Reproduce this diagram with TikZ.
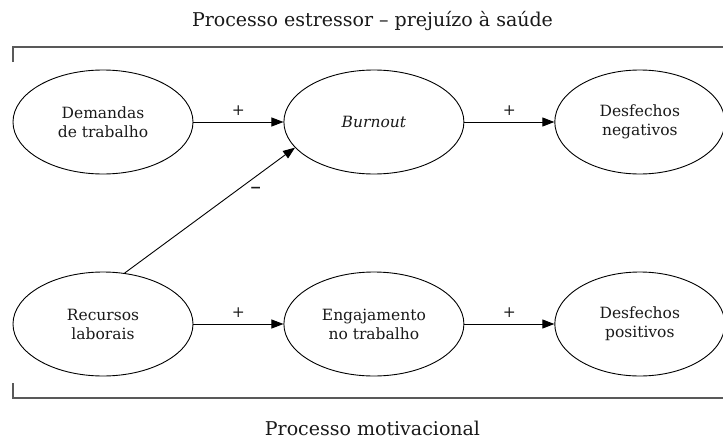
\documentclass[tikz,border=0pt]{standalone}
\usepackage{fontspec}
\setmainfont{DejaVu Serif}
\usetikzlibrary{positioning,shapes.geometric,arrows.meta}
\tikzset{main node/.style={ellipse,draw,line width=0.9pt,minimum width=180pt,minimum height=104pt,inner sep=0pt,align=center,font=\fontsize{15.5}{19}\selectfont,text=black!90},
         end node/.style={main node,minimum width=170pt},
         arr/.style={-{Triangle[length=12pt,width=9pt]},line width=0.9pt},
         sign/.style={font=\fontsize{15.5}{19}\selectfont,text=black!90},
         frame/.style={line width=1.4pt,black!65},
         caption/.style={font=\fontsize{19}{23}\selectfont,text=black!90,anchor=base},
            }

\begin{document}
\begin{tikzpicture}[x=1pt,y=-1pt]
    \useasboundingbox (0,0) rectangle (723,439);
    \node[caption] (top) at (372.5,27) {Processo estressor – prejuízo à saúde};
    \node[caption] (bottom) at (372.5,435) {Processo motivacional};

    \node[main node] (1) at (103,122) {Demandas\\de trabalho};
    \node[main node] (2) [right =90pt of 1] {\textit{Burnout}};
    \node[end node] (3) [right =90pt of 2] {Desfechos\\negativos};
    \node[main node] (4) at (103,324) {Recursos\\laborais};
    \node[main node] (5) [right =90pt of 4] {Engajamento\\no trabalho};
    \node[end node] (6) [right =90pt of 5] {Desfechos\\positivos};

    \draw[frame] (13,62) -- (13,47) -- (723,47);
    \draw[frame] (13,383) -- (13,398) -- (723,398);

    \path[arr]
    (1) edge node[sign,above=3pt] {+} (2)
    (2) edge node[sign,above=3pt] {+} (3)
    (4) edge node[sign,above=3pt] {+} (5)
    (5) edge node[sign,above=3pt] {+} (6)
    (4.67) edge node[sign,pos=0.77,below=7pt,font=\fontsize{14}{14}\selectfont\bfseries] {−} (2.198)
    ;
    %%
\end{tikzpicture}
\end{document}
